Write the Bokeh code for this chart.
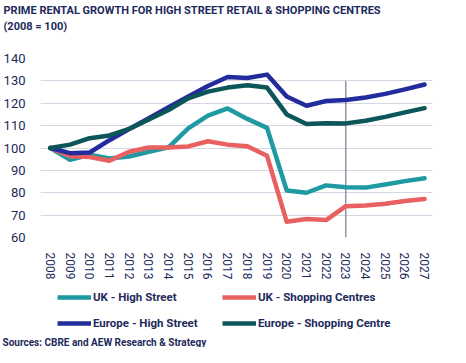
from bokeh.plotting import figure
from bokeh.layouts import column
from bokeh.models import FixedTicker, Legend, LegendItem, Range1d, Label
from bokeh.embed import file_html
from bokeh.resources import INLINE

years = list(range(2008, 2028))
year_labels = [str(y) for y in years]
y_ticks = [60, 70, 80, 90, 100, 110, 120, 130, 140]

uk_high_street = [100, 94.7, 97, 95.3, 96.2, 98.3, 100.3, 108.8, 114.5, 117.7,
                  113, 109, 81, 80, 83.3, 82.5, 82.3, 83.7, 85.2, 86.5]
uk_shopping_centres = [100, 96.3, 96, 94.3, 98.3, 100.2, 100.2, 100.7, 103, 101.5,
                       100.8, 96.5, 67, 68.3, 67.8, 74, 74.3, 75.1, 76.3, 77.2]
europe_high_street = [100, 97.7, 98, 103.5, 108.5, 113.3, 118.2, 123, 127.7, 131.7,
                      131.3, 132.8, 123, 118.9, 121, 121.5, 122.6, 124.2, 126.2, 128.4]
europe_shopping_centre = [100, 101.5, 104.4, 105.6, 108.5, 112.7, 117, 122.2, 125.2, 127,
                          128, 127, 115, 110.7, 111.1, 111, 112.2, 113.9, 115.9, 117.8]

series_names = ["UK - High Street", "UK - Shopping Centres",
                "Europe - High Street", "Europe - Shopping Centre"]
series_values = [uk_high_street, uk_shopping_centres, europe_high_street, europe_shopping_centre]
series_colors = ["#1f9aa3", "#e8605f", "#232c9c", "#0c5659"]

forecast_year = 2023
forecast_top = 130

title_line1 = "PRIME RENTAL GROWTH FOR HIGH STREET RETAIL & SHOPPING CENTRES"
title_line2 = "(2008 = 100)"
source_text = "Sources: CBRE and AEW Research & Strategy"

FONT = "Roboto"
NAVY = "#1d2a5b"


def no_frame_align(f):
    try:
        f.frame_align = False
    except Exception:
        pass


def blank_strip(height):
    f = figure(width=450, height=height, output_backend="svg", toolbar_location=None,
               x_axis_type=None, y_axis_type=None, min_border=0,
               x_range=Range1d(0, 1), y_range=Range1d(0, 1))
    f.outline_line_color = None
    f.xgrid.grid_line_color = None
    f.ygrid.grid_line_color = None
    no_frame_align(f)
    return f


# ---------------- header (title) ----------------
h = blank_strip(36)
for txt, yy in [(title_line1, 26), (title_line2, 10)]:
    h.add_layout(Label(x=3, y=yy, x_units="screen", y_units="screen", text=txt,
                       text_font=FONT, text_font_size="11px", text_font_style="bold",
                       text_color=NAVY, text_baseline="middle"))

# ---------------- main chart ----------------
p = figure(width=450, height=246, output_backend="svg", toolbar_location=None,
           x_range=Range1d(2007.5, 2027.4), y_range=Range1d(60, 140),
           min_border_left=29, min_border_right=18, min_border_top=22, min_border_bottom=43)
no_frame_align(p)
p.outline_line_color = None
p.background_fill_color = "white"
p.border_fill_color = "white"

p.xgrid.grid_line_color = None
p.ygrid.grid_line_color = "#d6d6e4"
p.ygrid.grid_line_width = 1
p.ygrid.ticker = FixedTicker(ticks=y_ticks)

p.yaxis.ticker = FixedTicker(ticks=y_ticks)
p.yaxis.axis_line_color = None
p.yaxis.major_tick_line_color = None
p.yaxis.minor_tick_line_color = None
p.yaxis.major_label_standoff = 9
p.yaxis.major_label_text_font = FONT
p.yaxis.major_label_text_font_size = "13px"
p.yaxis.major_label_text_color = NAVY

p.xaxis.ticker = FixedTicker(ticks=years)
p.xaxis.major_label_overrides = {y: lab for y, lab in zip(years, year_labels)}
p.xaxis.axis_line_color = None
p.xaxis.major_tick_line_color = None
p.xaxis.minor_tick_line_color = None
p.xaxis.major_label_orientation = "vertical"
p.xaxis.major_label_standoff = 9
p.xaxis.major_label_text_font = FONT
p.xaxis.major_label_text_font_size = "12px"
p.xaxis.major_label_text_color = NAVY

p.segment(x0=[forecast_year], y0=[60], x1=[forecast_year], y1=[forecast_top],
          line_color="#56637e", line_width=1)

for name, vals, col in zip(series_names, series_values, series_colors):
    p.line(years, vals, line_color=col, line_width=4.5, line_join="round", line_cap="round")

# ---------------- legend + source strip ----------------
q = blank_strip(65)
rend = {}
for name, vals, col in zip(series_names, series_values, series_colors):
    # same series, outside this strip's ranges: only the legend swatch shows
    rend[name] = q.line(years, vals, line_color=col, line_width=4.5)

legend_columns = [[series_names[0], series_names[2]], [series_names[1], series_names[3]]]
for names, xpos in zip(legend_columns, [57, 222]):
    lg = Legend(items=[LegendItem(label=n, renderers=[rend[n]]) for n in names],
                orientation="vertical", location=(xpos, 14))
    lg.border_line_color = None
    lg.background_fill_alpha = 0
    lg.padding = 0
    lg.margin = 0
    lg.spacing = 6
    lg.glyph_width = 34
    lg.glyph_height = 20
    lg.label_standoff = 2
    lg.label_text_font = FONT
    lg.label_text_font_size = "11.5px"
    lg.label_text_font_style = "bold"
    lg.label_text_color = NAVY
    q.add_layout(lg, "center")

q.add_layout(Label(x=2, y=5, x_units="screen", y_units="screen", text=source_text,
                   text_font=FONT, text_font_size="10px", text_font_style="bold",
                   text_color=NAVY, text_baseline="middle"))

layout = column(h, p, q, spacing=0)
open("out.html", "w").write(file_html(layout, INLINE))
